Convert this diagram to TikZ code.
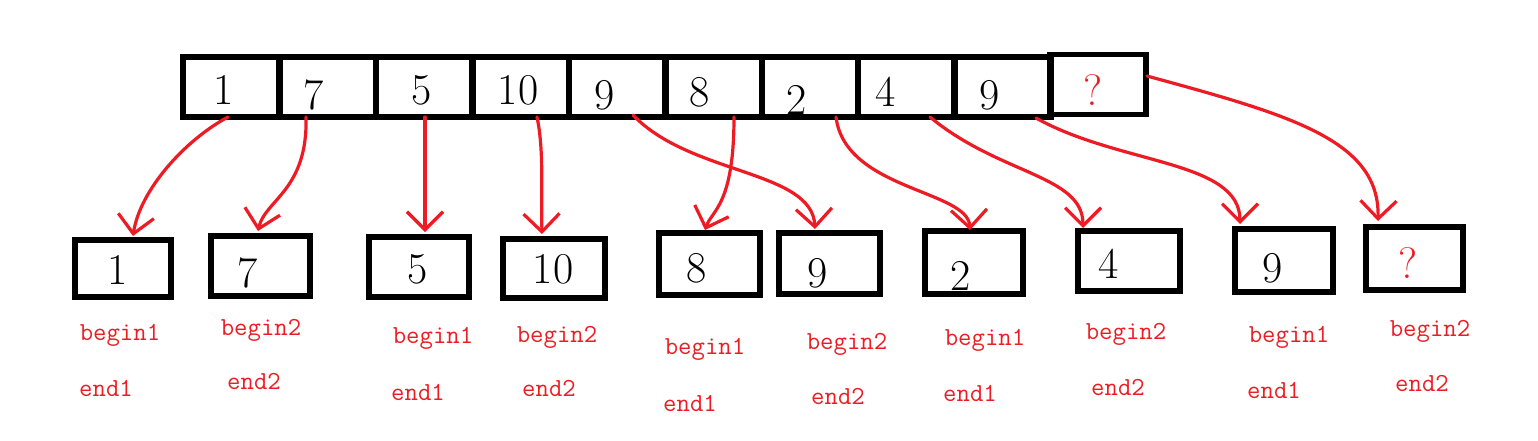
\documentclass[tikz,border=0pt]{standalone}
\usetikzlibrary{arrows.meta}
\definecolor{myred}{RGB}{237,28,36}
\begin{document}
\begin{tikzpicture}[x=0.5pt,y=-0.5pt,
  cellbox/.style={draw=black,line width=2.8pt,minimum width=48pt,minimum height=30pt,inner sep=0pt},
  outbox/.style={draw=black,line width=2.8pt,inner sep=0pt},
  digit/.style={font=\fontsize{22}{24}\selectfont,inner sep=0pt},
  qmark/.style={font=\fontsize{22}{24}\selectfont,inner sep=0pt,text=myred},
  lbl/.style={font=\fontsize{13}{15}\selectfont\ttfamily,text=myred,inner sep=0pt},
  redarrow/.style={draw=myred,line width=1.6pt,line cap=round,-{Straight Barb[length=9pt,width=18pt,line width=1.6pt]}}
]
\useasboundingbox (0,0) rectangle (1538,440);
% top array
\node[cellbox] (t1) at (231,87) {};
\node[cellbox] (t2) at (328,87) {};
\node[cellbox] (t3) at (424,87) {};
\node[cellbox] (t4) at (521,87) {};
\node[cellbox] (t5) at (617,87) {};
\node[cellbox] (t6) at (714,87) {};
\node[cellbox] (t7) at (810,87) {};
\node[cellbox] (t8) at (906,87) {};
\node[cellbox] (t9) at (1003,87) {};
\node[cellbox] (t10) at (1098,84.5) {};
\node[digit] (d1) at (224,90) {1};
\node[digit] (d2) at (314,95) {7};
\node[digit] (d3) at (422,90) {5};
\node[digit] (d4) at (518,90) {10};
\node[digit] (d5) at (605,95) {9};
\node[digit] (d6) at (700,92) {8};
\node[digit] (d7) at (797,100) {2};
\node[digit] (d8) at (886,92) {4};
\node[digit] (d9) at (990,95) {9};
\node[qmark] (d10) at (1093,90) {?};
% bottom boxes
\node[outbox,minimum width=48pt,minimum height=28.5pt] (b1) at (123,268.5) {};
\node[outbox,minimum width=49.5pt,minimum height=30pt] (b2) at (260.5,266) {};
\node[outbox,minimum width=50pt,minimum height=30pt] (b3) at (419,267) {};
\node[outbox,minimum width=51pt,minimum height=29.5pt] (b4) at (554,268.5) {};
\node[outbox,minimum width=50.5pt,minimum height=31pt] (b5) at (709.5,264) {};
\node[outbox,minimum width=50.5pt,minimum height=30.5pt] (b6) at (829.5,263.5) {};
\node[outbox,minimum width=49pt,minimum height=31.5pt] (b7) at (974,262.5) {};
\node[outbox,minimum width=51pt,minimum height=30pt] (b8) at (1129,261) {};
\node[outbox,minimum width=49pt,minimum height=31.5pt] (b9) at (1284,260.5) {};
\node[outbox,minimum width=48.5pt,minimum height=31.5pt] (b10) at (1414.5,258.5) {};
\node[digit] (e1) at (118,270) {1};
\node[digit] (e2) at (248,273) {7};
\node[digit] (e3) at (418,269) {5};
\node[digit] (e4) at (553,269) {10};
\node[digit] (e5) at (697,268) {8};
\node[digit] (e6) at (818,273) {9};
\node[digit] (e7) at (961,276) {2};
\node[digit] (e8) at (1109,264) {4};
\node[digit] (e9) at (1273,268) {9};
\node[qmark] (e10) at (1408,263) {?};
% labels
\node[lbl] (g1) at (120,335) {begin1};
\node[lbl] (h1) at (106,388) {end1};
\node[lbl] (g2) at (261,330) {begin2};
\node[lbl] (h2) at (254,381) {end2};
\node[lbl] (g3) at (433,338) {begin1};
\node[lbl] (h3) at (418,392) {end1};
\node[lbl] (g4) at (557,337) {begin2};
\node[lbl] (h4) at (549,388) {end2};
\node[lbl] (g5) at (705,349) {begin1};
\node[lbl] (h5) at (690,403) {end1};
\node[lbl] (g6) at (847,344) {begin2};
\node[lbl] (h6) at (838,396) {end2};
\node[lbl] (g7) at (985,340) {begin1};
\node[lbl] (h7) at (970,393) {end1};
\node[lbl] (g8) at (1126,334) {begin2};
\node[lbl] (h8) at (1118,387) {end2};
\node[lbl] (g9) at (1289,337) {begin1};
\node[lbl] (h9) at (1274,390) {end1};
\node[lbl] (g10) at (1430,331) {begin2};
\node[lbl] (h10) at (1422,383) {end2};
% arrow anchor points
\coordinate (s1) at (228,117);  \coordinate (p1) at (133,236);
\coordinate (s2) at (306,117);  \coordinate (p2) at (258,231);
\coordinate (s3) at (425,117);  \coordinate (p3) at (425,232);
\coordinate (s4) at (537,117);  \coordinate (p4) at (542,234);
\coordinate (s5) at (633,115);  \coordinate (p5) at (815,229);
\coordinate (s6) at (734,117);  \coordinate (p6) at (705,230);
\coordinate (s7) at (836,117);  \coordinate (p7) at (970,230);
\coordinate (s8) at (930,117);  \coordinate (p8) at (1083,228);
\coordinate (s9) at (1036,118); \coordinate (p9) at (1240,224);
\coordinate (s10) at (1147,76); \coordinate (p10) at (1378,221);
\draw[redarrow] (s1) .. controls (185,140) and (140,190) .. (p1);
\draw[redarrow] (s2) .. controls (308,190) and (265,200) .. (p2);
\draw[redarrow] (s3) -- (p3);
\draw[redarrow] (s4) .. controls (544,150) and (541,190) .. (p4);
\draw[redarrow] (s5) .. controls (690,175) and (812,170) .. (p5);
\draw[redarrow] (s6) .. controls (734,205) and (712,210) .. (p6);
\draw[redarrow] (s7) .. controls (845,190) and (968,190) .. (p7);
\draw[redarrow] (s8) .. controls (1000,175) and (1083,175) .. (p8);
\draw[redarrow] (s9) .. controls (1120,165) and (1240,160) .. (p9);
\draw[redarrow] (s10) .. controls (1290,115) and (1380,140) .. (p10);
\end{tikzpicture}
\end{document}
